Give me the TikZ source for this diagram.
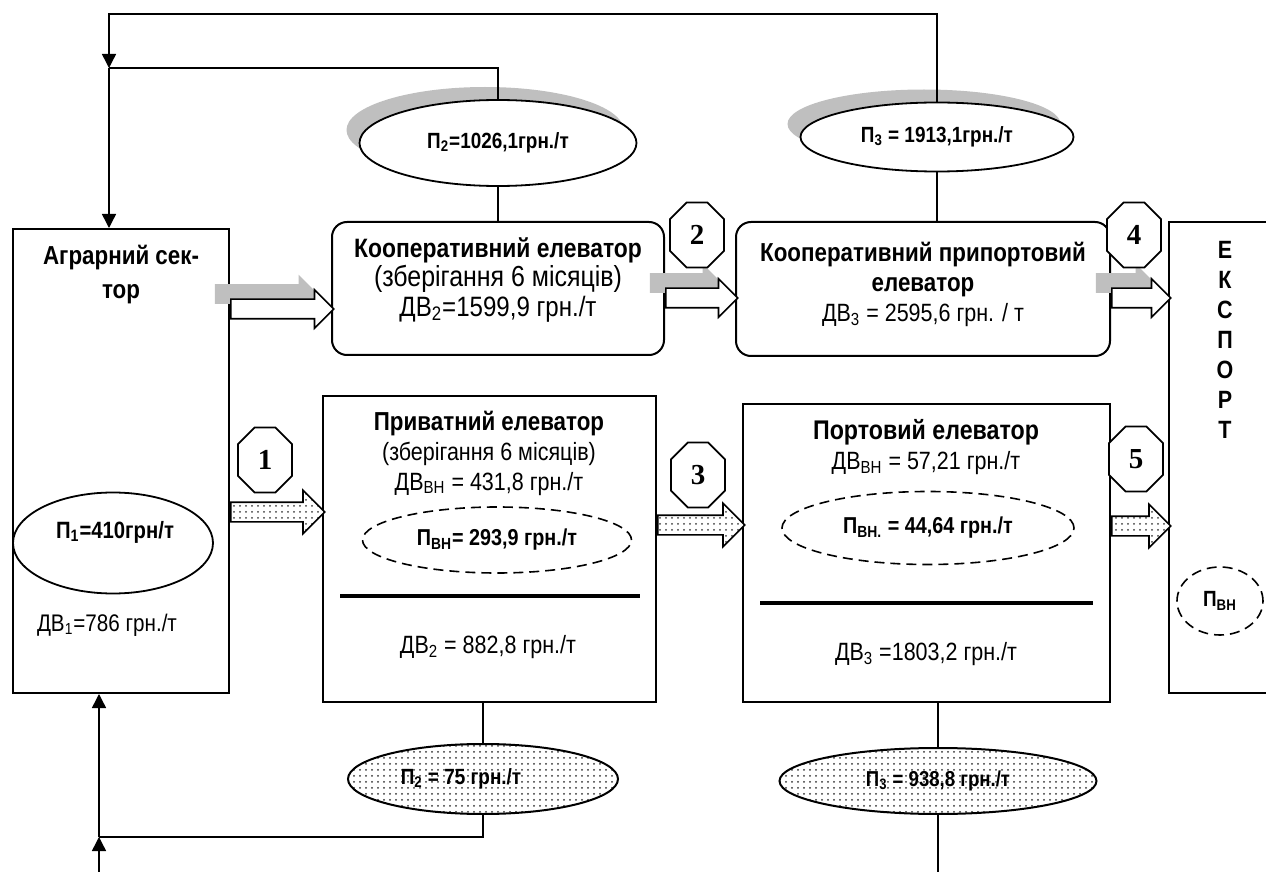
\documentclass[tikz,border=0pt]{standalone}
\usepackage{fontspec}
\setmainfont{Liberation Sans}[FakeStretch=0.86]
\newfontfamily\octfont{Liberation Serif}
\usetikzlibrary{shapes.geometric,shapes.misc,shapes.arrows,patterns,arrows.meta}

\tikzset{
  box/.style={draw, line width=1pt, inner sep=0pt},
  rbox/.style={box, rounded corners=7.5pt},
  txt/.style={font=\fontsize{12.5}{15}\selectfont, align=center, inner sep=0pt},
  hdr/.style={txt, font=\fontsize{13}{15}\selectfont\bfseries},
  oval/.style={ellipse, draw, line width=0.9pt, fill=white, inner sep=0pt},
  dashoval/.style={ellipse, draw, line width=0.8pt, dash pattern=on 5pt off 3pt, inner sep=0pt},
  dotoval/.style={ellipse, draw, line width=1pt, inner sep=0pt, preaction={fill=white}, pattern=dots, pattern color=black!80},
  crescent/.style={ellipse, fill=black!25, inner sep=0pt},
  num/.style={chamfered rectangle, chamfered rectangle xsep=7.5pt, draw, line width=0.9pt, fill=white, inner sep=0pt, minimum width=27pt, minimum height=32.5pt, font=\octfont\fontsize{14.5}{14.5}\selectfont\bfseries},
  hollow/.style={single arrow, draw, line width=0.8pt, fill=white, inner xsep=0pt, inner ysep=4.5pt, minimum width=18.5pt, single arrow head extend=4.75pt, anchor=tail},
  ghost/.style={hollow, draw=none, fill=black!25, xshift=-8pt, yshift=7.5pt},
  grainflow/.style={single arrow, draw, line width=0.8pt, inner xsep=0pt, inner ysep=4.5pt, minimum width=21pt, single arrow head extend=6pt, anchor=tail, preaction={fill=white}, pattern=dots, pattern color=black!75},
  link/.style={line width=0.75pt},
  feed/.style={link, -{Triangle[length=7pt, width=7pt]}},
  split/.style={line width=2pt}
}

\begin{document}
\begin{tikzpicture}[x=0.5pt, y=-0.5pt]
\useasboundingbox (0,0) rectangle (1266,872);
\clip (0,0) rectangle (1266,872);

% shadows of the upper ovals
\node[crescent, minimum width=138.5pt, minimum height=43pt] (p2shade) at (485,130) {};
\node[crescent, minimum width=136.5pt, minimum height=34.5pt] (p3shade) at (924,124) {};

% blocks
\node[box, minimum width=108pt, minimum height=232pt] (agro) at (121,461) {};
\node[rbox, minimum width=166pt, minimum height=66.5pt] (coop) at (498,288.5) {};
\node[rbox, minimum width=187pt, minimum height=67pt] (coopport) at (923,289) {};
\node[box, minimum width=166.5pt, minimum height=153pt] (priv) at (489.5,549) {};
\node[box, minimum width=183.5pt, minimum height=149pt] (port) at (926.5,553) {};
\node[box, minimum width=60pt, minimum height=235.5pt] (export) at (1229,457.5) {};

% texts in the blocks
\node[hdr, font=\fontsize{13}{17}\selectfont\bfseries] (agrotitle) at (121,275) {Аграрний сек-\\тор};
\node[txt, font=\fontsize{12}{14}\selectfont] (dv1) at (107,625) {ДВ\textsubscript{1}=786 грн./т};
\node[hdr, font=\fontsize{13.3}{15}\selectfont\bfseries] (cooptitle) at (498,250) {Кооперативний елеватор};
\node[txt, font=\fontsize{14.5}{15}\selectfont] (coopnote) at (498,279) {(зберігання 6 місяців)};
\node[txt, font=\fontsize{14}{15}\selectfont] (coopdv) at (498,309) {ДВ\textsubscript{2}=1599,9 грн./т};
\node[txt, font=\fontsize{12.5}{15}\selectfont] (coopporttitle) at (923,284)
  {\textbf{\fontsize{13}{15}\selectfont Кооперативний припортовий}\\\textbf{\fontsize{13}{15}\selectfont елеватор}\\ДВ\textsubscript{3} = 2595,6 грн. / т};
\node[txt] (privtitle) at (489,453) {\textbf{\fontsize{13}{15}\selectfont Приватний елеватор}\\(зберігання 6 місяців)\\ДВ\textsubscript{ВН} = 431,8 грн./т};
\node[txt] (dv2) at (488,647) {ДВ\textsubscript{2} = 882,8 грн./т};
\node[txt] (porttitle) at (926,447) {\textbf{\fontsize{13.5}{15}\selectfont Портовий елеватор}\\ДВ\textsubscript{ВН} = 57,21 грн./т};
\node[txt] (dv3) at (926,654) {ДВ\textsubscript{3} =1803,2 грн./т};
\node[hdr, font=\fontsize{12.5}{15}\selectfont\bfseries] (exptitle) at (1225,340) {Е\\К\\С\\П\\О\\Р\\Т};
\draw[split] (340,596) -- (640,596);
\draw[split] (760,603) -- (1093,603);

% ovals
\node[oval, minimum width=100pt, minimum height=50.5pt] (p1) at (113,543) {};
\node[hdr, font=\fontsize{11.8}{12}\selectfont\bfseries] (p1txt) at (115,532) {П\textsubscript{1}=410грн/т};
\node[oval, hdr, font=\fontsize{11}{12}\selectfont\bfseries, minimum width=138.5pt, minimum height=43pt] (p2top) at (498,143) {П\textsubscript{2}=1026,1грн./т};
\node[oval, hdr, font=\fontsize{11}{12}\selectfont\bfseries, minimum width=136.5pt, minimum height=34.5pt] (p3top) at (937,137) {П\textsubscript{3} = 1913,1грн./т};
\node[dashoval, hdr, font=\fontsize{11.5}{12}\selectfont\bfseries, minimum width=134.5pt, minimum height=33pt] (pvn1) at (497,540) {П\textsubscript{ВН}= 293,9 грн./т};
\node[dashoval, hdr, font=\fontsize{11.5}{12}\selectfont\bfseries, minimum width=146pt, minimum height=36.5pt] (pvn2) at (928,528) {П\textsubscript{ВН.} = 44,64 грн./т};
\node[dashoval, hdr, font=\fontsize{11}{12}\selectfont\bfseries, minimum width=43pt, minimum height=34pt] (pvn3) at (1220,601) {П\textsubscript{ВН}};
\node[dotoval, minimum width=135pt, minimum height=35pt] (p2bot) at (483,779) {};
\node[hdr, font=\fontsize{11}{12}\selectfont\bfseries] (p2bottxt) at (461,779) {П\textsubscript{2} = 75 грн./т};
\node[dotoval, hdr, font=\fontsize{10.8}{12}\selectfont\bfseries, minimum width=158.5pt, minimum height=33pt] (p3bot) at (938,781) {П\textsubscript{3} = 938,8 грн./т};

% feedback lines
\coordinate (topj) at (109,68);
\coordinate (botj) at (99,837);
\coordinate (inflow) at (99,872);
\coordinate (outflow) at (938,872);
\draw[feed] (p3top.north) |- (109,14) -- (topj);
\draw[link] (p2top.north) |- (topj);
\draw[feed] (topj) -- (topj |- agro.north);
\draw[link] (p2top.south) -- (p2top.south |- coop.north);
\draw[link] (p3top.south) -- (p3top.south |- coopport.north);
\draw[link] (p2bot.north |- priv.south) -- (p2bot.north);
\draw[link] (p2bot.south) |- (botj);
\draw[feed] (botj) -- (botj |- agro.south);
\draw[feed] (inflow) -- (botj);
\draw[link] (p3bot.north |- port.south) -- (p3bot.north);
\draw[link] (p3bot.south) -- (outflow);

% flows between the blocks
\node[ghost, minimum height=51.5pt] (ga) at (agro.east |- 0,309) {};
\node[ghost, minimum height=36pt] (g2) at (coop.east |- 0,298) {};
\node[ghost, minimum height=29.5pt] (g4) at (coopport.east |- 0,298) {};
\node[hollow, minimum height=51.5pt] (fa) at (agro.east |- 0,309) {};
\node[hollow, minimum height=36pt] (f2) at (coop.east |- 0,298) {};
\node[hollow, minimum height=29.5pt] (f4) at (coopport.east |- 0,298) {};
\node[grainflow, minimum height=47pt] (f1) at (agro.east |- 0,512) {};
\node[grainflow, minimum height=43.5pt] (f3) at (priv.east |- 0,525) {};
\node[grainflow, minimum height=29.5pt] (f5) at (port.east |- 0,526) {};

% route numbers
\node[num] (n1) at (265,460) {1};
\node[num] (n2) at (697,235) {2};
\node[num] (n3) at (698,475) {3};
\node[num] (n4) at (1134,235) {4};
\node[num] (n5) at (1136,459) {5};
\end{tikzpicture}
\end{document}
